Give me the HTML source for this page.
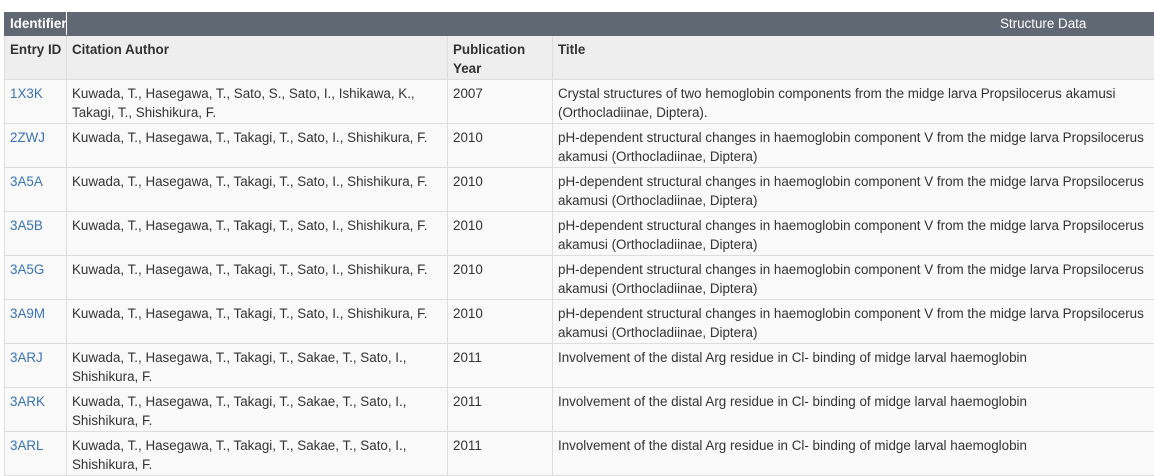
<!DOCTYPE html>
<html><head><meta charset="utf-8"><style>
body{margin:0;background:#fff;width:1154px;height:470px;overflow:hidden;font-family:"Liberation Sans",Arial,sans-serif;font-size:13.4px;color:#333;}
table{position:absolute;left:4px;top:11px;border-collapse:collapse;table-layout:fixed;width:1152px;}
td,th{border:1px solid #ddd;padding:4px 5px 1px 5px;vertical-align:top;line-height:19px;text-align:left;overflow:hidden;}
tr.top th{background:#5f6873;color:#fff;height:17px;padding:3px 5px;font-weight:bold;border-color:#fff #fff #5f6873 #5f6873;line-height:17px;white-space:nowrap;}
tr.top th.sd{text-align:left;padding-left:933px;font-weight:normal;}
tr.hdr th{background:#eee;height:38px;font-weight:bold;color:#333;}
tr.hdr th:first-child{white-space:nowrap;}
tr.r td{height:38px;background:#f9f9f9;}
a{color:#3b73af;text-decoration:none;}
</style></head><body>
<table>
<colgroup><col style="width:62px"><col style="width:381px"><col style="width:105px"><col style="width:604px"></colgroup>
<tr class="top"><th>Identifier</th><th colspan="3" class="sd">Structure Data</th></tr>
<tr class="hdr"><th>Entry ID</th><th>Citation Author</th><th>Publication Year</th><th>Title</th></tr>
<tr class="r"><td><a href="#">1X3K</a></td><td>Kuwada, T., Hasegawa, T., Sato, S., Sato, I., Ishikawa, K., Takagi, T., Shishikura, F.</td><td>2007</td><td>Crystal structures of two hemoglobin components from the midge larva Propsilocerus akamusi (Orthocladiinae, Diptera).</td></tr>
<tr class="r"><td><a href="#">2ZWJ</a></td><td>Kuwada, T., Hasegawa, T., Takagi, T., Sato, I., Shishikura, F.</td><td>2010</td><td>pH-dependent structural changes in haemoglobin component V from the midge larva Propsilocerus akamusi (Orthocladiinae, Diptera)</td></tr>
<tr class="r"><td><a href="#">3A5A</a></td><td>Kuwada, T., Hasegawa, T., Takagi, T., Sato, I., Shishikura, F.</td><td>2010</td><td>pH-dependent structural changes in haemoglobin component V from the midge larva Propsilocerus akamusi (Orthocladiinae, Diptera)</td></tr>
<tr class="r"><td><a href="#">3A5B</a></td><td>Kuwada, T., Hasegawa, T., Takagi, T., Sato, I., Shishikura, F.</td><td>2010</td><td>pH-dependent structural changes in haemoglobin component V from the midge larva Propsilocerus akamusi (Orthocladiinae, Diptera)</td></tr>
<tr class="r"><td><a href="#">3A5G</a></td><td>Kuwada, T., Hasegawa, T., Takagi, T., Sato, I., Shishikura, F.</td><td>2010</td><td>pH-dependent structural changes in haemoglobin component V from the midge larva Propsilocerus akamusi (Orthocladiinae, Diptera)</td></tr>
<tr class="r"><td><a href="#">3A9M</a></td><td>Kuwada, T., Hasegawa, T., Takagi, T., Sato, I., Shishikura, F.</td><td>2010</td><td>pH-dependent structural changes in haemoglobin component V from the midge larva Propsilocerus akamusi (Orthocladiinae, Diptera)</td></tr>
<tr class="r"><td><a href="#">3ARJ</a></td><td>Kuwada, T., Hasegawa, T., Takagi, T., Sakae, T., Sato, I., Shishikura, F.</td><td>2011</td><td>Involvement of the distal Arg residue in Cl- binding of midge larval haemoglobin</td></tr>
<tr class="r"><td><a href="#">3ARK</a></td><td>Kuwada, T., Hasegawa, T., Takagi, T., Sakae, T., Sato, I., Shishikura, F.</td><td>2011</td><td>Involvement of the distal Arg residue in Cl- binding of midge larval haemoglobin</td></tr>
<tr class="r"><td><a href="#">3ARL</a></td><td>Kuwada, T., Hasegawa, T., Takagi, T., Sakae, T., Sato, I., Shishikura, F.</td><td>2011</td><td>Involvement of the distal Arg residue in Cl- binding of midge larval haemoglobin</td></tr>
</table>
</body></html>
